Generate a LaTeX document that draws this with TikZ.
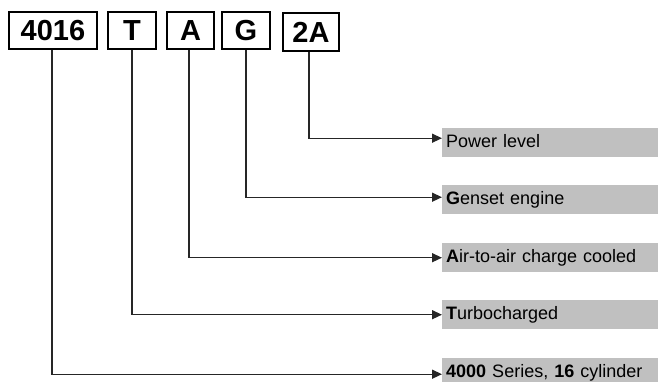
\documentclass[tikz,border=0pt]{standalone}
\usepackage{fontspec}
\setmainfont{Liberation Sans}
\usetikzlibrary{arrows.meta}

\definecolor{bargray}{RGB}{192,192,192}

\tikzset{
	codebox/.style = {draw = black, line width = 2pt, inner sep = 0pt, minimum height = 37pt,
		font = \fontsize{29}{30}\selectfont\bfseries},
	bar/.style = {fill = bargray, anchor = north west, inner xsep = 4pt, inner ysep = 0pt,
		minimum height = 29pt, minimum width = 216pt, text width = 208pt, align = left,
		text height = 13pt, text depth = 4pt, font = \fontsize{18}{20}\selectfont},
	conn/.style = {draw = black!85, line width = 1.4pt, -{Triangle[length=10pt,width=9pt]}}
}

\begin{document}
\begin{tikzpicture}[x=1pt,y=1pt]
	\useasboundingbox (0,0) rectangle (658,-381);

	% code letters
	\node[codebox, minimum width = 88pt] (b4016) at (53,-30.5) {4016};
	\node[codebox, minimum width = 48pt] (bt) at (132,-30.5) {T};
	\node[codebox, minimum width = 47pt] (ba) at (190.5,-30.5) {A};
	\node[codebox, minimum width = 48pt] (bg) at (246,-30.5) {G};
	\node[codebox, minimum width = 56pt, minimum height = 38pt] (b2a) at (311,-32) {2A};

	% meanings
	\node[bar] (pw) at (442,-128) {Power level};
	\node[bar] (gs) at (442,-185) {\textbf{G}enset engine};
	\node[bar] (ac) at (442,-243) {\textbf{A}ir-to-air charge cooled};
	\node[bar] (tc) at (442,-300) {\textbf{T}urbocharged};
	\node[bar] (sr) at (442,-358) {\textbf{4000} Series, \textbf{16} cylinder};

	\draw[conn] ([xshift=-2pt]b2a.south) |- ([yshift=4.5pt]pw.west);
	\draw[conn] (bg.south) |- ([yshift=2.5pt]gs.west);
	\draw[conn] ([xshift=-1.5pt]ba.south) |- (ac.west);
	\draw[conn] (bt.south) |- (tc.west);
	\draw[conn] ([xshift=-1pt]b4016.south) |- ([yshift=-1.5pt]sr.west);
\end{tikzpicture}
\end{document}
